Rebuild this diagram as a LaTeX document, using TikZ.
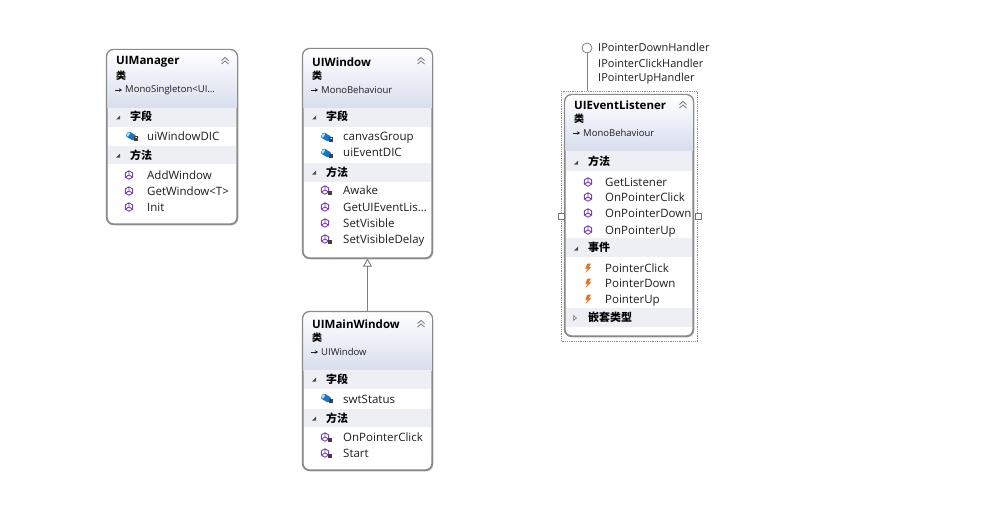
\documentclass[tikz,border=0pt]{standalone}
\usepackage{fontspec}
\setmainfont{Open Sans}
\newfontfamily\cjk{Noto Sans CJK SC}
\usetikzlibrary{arrows.meta,calc,positioning}

\definecolor{hdrblue}{HTML}{D8DEEE}
\definecolor{bandgray}{HTML}{EDEFF5}
\definecolor{boxline}{HTML}{8A8A8A}
\definecolor{methcol}{HTML}{7B3FB5}
\definecolor{fieldcol}{HTML}{1C74C4}
\definecolor{evcol}{HTML}{E5702A}
\definecolor{txtcol}{HTML}{1E1E1E}

\tikzset{
  classbox/.style={draw=boxline,line width=1.1pt,rounded corners=7pt,fill=white,inner sep=0pt},
  ctitle/.style={anchor=west,inner sep=0pt,font=\fontsize{11.5}{13}\selectfont\bfseries,text=black},
  ckind/.style={anchor=west,inner sep=0pt,font=\cjk\fontsize{10}{11}\selectfont\bfseries,text=black},
  cbase/.style={anchor=west,inner sep=0pt,font=\fontsize{9.5}{11}\selectfont,text=txtcol},
  csect/.style={anchor=west,inner sep=0pt,font=\cjk\fontsize{11}{12}\selectfont\bfseries,text=black},
  cmember/.style={anchor=west,inner sep=0pt,text height=8.5pt,text depth=0.5pt,font=\fontsize{11.5}{13}\selectfont,text=txtcol},
  iface/.style={anchor=west,inner sep=0pt,text height=8.5pt,text depth=0.5pt,font=\fontsize{11}{13}\selectfont,text=txtcol},
  handle/.style={draw=black!55,fill=white,minimum size=6pt,inner sep=0pt,line width=0.6pt},
}

% box with shaded header: name, corners (#2,#3) (#4,#5), header bottom #6
\newcommand\classframe[6]{%
  \fill[black!12,rounded corners=7pt] ({#2+1.5},{#3+1.5}) rectangle ({#4+1.5},{#5+1.5});
  \node[classbox,minimum width={#4-#2},minimum height={#5-#3}] (#1) at ({(#2+#4)/2},{(#3+#5)/2}) {};
  \begin{scope}
    \clip[rounded corners=7pt] (#2,#3) rectangle (#4,#5);
    \shade[top color=white,bottom color=hdrblue] (#2,#3) rectangle (#4,#6);
  \end{scope}
}
\newcommand\methico[2]{%
  \draw[methcol,line width=0.9pt,line join=round] (#1,#2) +(30:4.2) -- +(90:4.2) -- +(150:4.2) -- +(210:4.2) -- +(270:4.2) -- +(330:4.2) -- cycle
    (#1,#2) -- +(270:4.2) (#1,#2) -- +(30:4.2) (#1,#2) -- +(150:4.2);}
\newcommand\fieldico[2]{%
  \fill[fieldcol,rotate around={-30:(#1,#2)},rounded corners=2pt] ({#1-4.8},{#2-3}) rectangle ({#1+4.8},{#2+3});
  \fill[cyan!35!white,rotate around={-30:(#1,#2)}] ({#1-3.2},#2) ellipse (1.3 and 2.4);}
\newcommand\evico[2]{%
  \fill[evcol] ({#1-0.5},{#2-4.5}) -- ({#1+3},{#2-4.5}) -- ({#1+0.8},{#2-0.8}) -- ({#1+3.2},{#2-0.8}) -- ({#1-2.5},{#2+4.8}) -- ({#1-0.3},{#2+0.6}) -- ({#1-2.8},{#2+0.6}) -- cycle;}
\newcommand\lockico[2]{%
  \fill[black!75] ({#1+3},{#2+2}) rectangle ({#1+6.5},{#2+5});
  \draw[black!75,line width=0.6pt] ({#1+3.7},{#2+2}) -- ({#1+3.7},{#2+0.8}) -- ({#1+5.8},{#2+0.8}) -- ({#1+5.8},{#2+2});}
\newcommand\openarr[2]{\fill[black!70] ({#1+2.2},{#2-1.5}) -- ({#1+2.2},{#2+2.5}) -- ({#1-1.8},{#2+2.5}) -- cycle;}
\newcommand\shutarr[2]{\draw[black!60,line width=0.5pt] ({#1-1.5},{#2-2.5}) -- ({#1+1.5},#2) -- ({#1-1.5},{#2+2.5}) -- cycle;}
\newcommand\chevrons[2]{\draw[black!55,line width=0.8pt] ({#1-3.5},{#2-0.5}) -- (#1,{#2-3.5}) -- ({#1+3.5},{#2-0.5}) ({#1-3.5},{#2+3}) -- (#1,#2) -- ({#1+3.5},{#2+3});}
\newcommand\basearr[2]{\draw[-{Stealth[length=3pt,width=3.5pt]},line width=0.7pt,txtcol] (#1,#2) -- ({#1+7},#2);}

\begin{document}
\begin{tikzpicture}[x=1pt,y=-1pt]
  \useasboundingbox[fill=white] (0,0) rectangle (998,532);

  % UIManager
  \classframe{uimgr}{107}{50}{237}{224}{108}
  \fill[bandgray] (108,108) rectangle (236,127);
  \fill[bandgray] (108,146) rectangle (236,164);
  \draw[boxline,line width=1.1pt,rounded corners=7pt] (uimgr.south west) rectangle (uimgr.north east);
  \node[ctitle] (uimgr-t) at (116,62) {UIManager};
  \node[ckind] (uimgr-k) at (116,76) {类};
  \chevrons{225}{61}
  \basearr{115}{90}
  \node[cbase] (uimgr-b) at (125,90) {MonoSingleton<UI…};
  \openarr{118}{117}
  \node[csect] (uimgr-s1) at (130,116) {字段};
  \fieldico{131}{136} \lockico{131}{136}
  \node[cmember] (uimgr-f1) at (147,137) {uiWindowDIC};
  \openarr{118}{155}
  \node[csect] (uimgr-s2) at (130,155) {方法};
  \foreach \y/\t [count=\i] in {175/AddWindow,191/GetWindow<T>,207/Init}{
    \methico{129}{\y}
    \node[cmember] (uimgr-m\i) at (147,\y) {\t};
  }

  % UIWindow
  \classframe{uiwin}{303}{49}{432}{258}{108}
  \fill[bandgray] (304,108) rectangle (431,127);
  \fill[bandgray] (304,163) rectangle (431,182);
  \draw[boxline,line width=1.1pt,rounded corners=7pt] (uiwin.south west) rectangle (uiwin.north east);
  \node[ctitle] (uiwin-t) at (312,62) {UIWindow};
  \node[ckind] (uiwin-k) at (312,76) {类};
  \chevrons{421}{61}
  \basearr{311}{90}
  \node[cbase] (uiwin-b) at (321,90) {MonoBehaviour};
  \openarr{314}{117}
  \node[csect] (uiwin-s1) at (326,116) {字段};
  \foreach \y/\t [count=\i] in {137/canvasGroup,153/uiEventDIC}{
    \fieldico{326}{\y} \lockico{326}{\y}
    \node[cmember] (uiwin-f\i) at (343,\y) {\t};
  }
  \openarr{314}{172}
  \node[csect] (uiwin-s2) at (326,172) {方法};
  \foreach \y/\t [count=\i] in {190/Awake,207/GetUIEventLis…,223/SetVisible,239/SetVisibleDelay}{
    \methico{325}{\y}
    \node[cmember] (uiwin-m\i) at (343,\y) {\t};
  }
  \lockico{325}{190} \lockico{325}{239}

  % UIMainWindow
  \classframe{uimain}{303}{312}{432}{470}{370}
  \fill[bandgray] (304,370) rectangle (431,389);
  \fill[bandgray] (304,409) rectangle (431,427);
  \draw[boxline,line width=1.1pt,rounded corners=7pt] (uimain.south west) rectangle (uimain.north east);
  \node[ctitle] (uimain-t) at (312,324) {UIMainWindow};
  \node[ckind] (uimain-k) at (312,338) {类};
  \chevrons{421}{324}
  \basearr{311}{352}
  \node[cbase] (uimain-b) at (321,352) {UIWindow};
  \openarr{314}{379}
  \node[csect] (uimain-s1) at (326,379) {字段};
  \fieldico{326}{398} \lockico{326}{398}
  \node[cmember] (uimain-f1) at (343,399) {swtStatus};
  \openarr{314}{418}
  \node[csect] (uimain-s2) at (326,418) {方法};
  \foreach \y/\t [count=\i] in {437/OnPointerClick,453/Start}{
    \methico{325}{\y} \lockico{325}{\y}
    \node[cmember] (uimain-m\i) at (343,\y) {\t};
  }

  \draw[black!50,line width=0.9pt,-{Triangle[open,fill=white,length=8pt,width=9pt]}] (uimain.north) -- (uiwin.south);

  % UIEventListener
  \node[draw=black!45,densely dotted,line width=0.8pt,minimum width=136,minimum height=250,inner sep=0pt] (uelsel) at (629.5,216.5) {};
  \classframe{uel}{565}{95}{693}{336}{150}
  \fill[bandgray] (566,151) rectangle (692,171);
  \fill[bandgray] (566,238) rectangle (692,257);
  \fill[bandgray] (566,308) rectangle (692,327);
  \draw[boxline,line width=1.1pt,rounded corners=7pt] (uel.south west) rectangle (uel.north east);
  \node[ctitle] (uel-t) at (574,105) {UIEventListener};
  \node[ckind] (uel-k) at (574,119) {类};
  \chevrons{683}{105}
  \basearr{573}{133}
  \node[cbase] (uel-b) at (583,133) {MonoBehaviour};
  \openarr{576}{162}
  \node[csect] (uel-s1) at (588,161) {方法};
  \foreach \y/\t [count=\i] in {182/GetListener,197/OnPointerClick,213/OnPointerDown,230/OnPointerUp}{
    \methico{588}{\y}
    \node[cmember] (uel-m\i) at (605,\y) {\t};
  }
  \openarr{576}{248}
  \node[csect] (uel-s2) at (588,247) {事件};
  \foreach \y/\t [count=\i] in {268/PointerClick,283/PointerDown,299/PointerUp}{
    \evico{588}{\y}
    \node[cmember] (uel-e\i) at (605,\y) {\t};
  }
  \shutarr{575}{318}
  \node[csect] (uel-s3) at (588,317) {嵌套类型};
  \node[handle] (uel-hl) at (uelsel.west) {};
  \node[handle] (uel-hr) at (uelsel.east) {};

  % interfaces
  \node[circle,draw=black!50,fill=white,line width=0.8pt,minimum size=10pt,inner sep=0pt] (ilolli) at (587,48) {};
  \draw[black!50,line width=0.8pt] (ilolli.south) -- (ilolli |- uelsel.north);
  \node[iface] (if1) at (598,48) {IPointerDownHandler};
  \node[iface] (if2) at (598,64) {IPointerClickHandler};
  \node[iface] (if3) at (598,78) {IPointerUpHandler};
\end{tikzpicture}
\end{document}
